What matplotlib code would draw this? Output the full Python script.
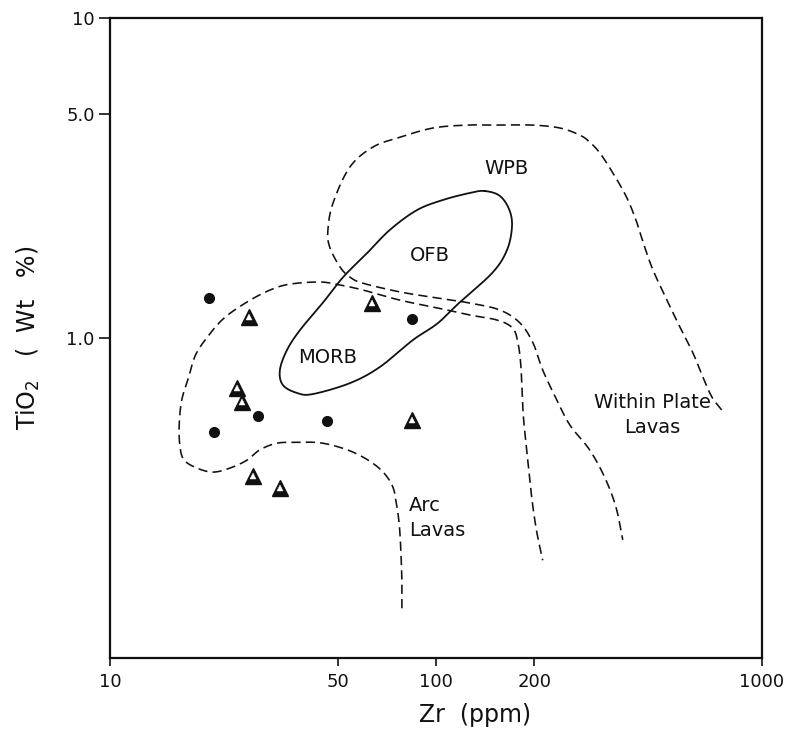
import numpy as np
import matplotlib
matplotlib.use("Agg")
import matplotlib.pyplot as plt
from matplotlib.ticker import FixedLocator, FixedFormatter, NullLocator

# Sample analyses: Zr (ppm) vs TiO2 (wt %)
dot_zr = [20.1, 84.4, 20.8, 28.4, 46.3]
dot_tio2 = [1.33, 1.15, 0.51, 0.57, 0.55]
tri_zr = [26.7, 63.6, 24.5, 25.4, 84.4, 27.5, 33.2]
tri_tio2 = [1.16, 1.29, 0.70, 0.63, 0.555, 0.37, 0.34]

# Ocean-floor basalt / MORB field (closed outline)
ofb_zr = [141, 157, 168, 171, 165, 149, 118, 101, 85, 67.3, 54.5, 41.9,
          37.5, 33.9, 33.2, 34.9, 38.3, 45.0, 51.9, 61.4, 72.3, 87.4, 105, 127]
ofb_tio2 = [2.88, 2.78, 2.51, 2.22, 1.88, 1.60, 1.29, 1.11, 0.986, 0.812,
            0.723, 0.668, 0.673, 0.713, 0.794, 0.917, 1.06, 1.29, 1.55, 1.84,
            2.18, 2.51, 2.70, 2.84]

# Arc lavas field boundary
arc_zr = [78.6, 78.6, 77.5, 75.9, 73.3, 66.3, 55.6, 45.0, 37.4, 32.5, 28.8,
          26.3, 23.3, 20.7, 18.5, 16.9, 16.4, 16.3, 16.6, 17.4, 18.3, 20.0,
          22.4, 26.3, 31.0, 35.7, 44.1, 50.8, 59.6, 77.5, 97.9, 127, 153.8,
          171.8, 178.4, 182.2, 184.7, 189.7, 197.0, 204.0, 212.5]
arc_tio2 = [0.143, 0.175, 0.246, 0.296, 0.347, 0.395, 0.440, 0.469, 0.472,
            0.469, 0.447, 0.415, 0.392, 0.381, 0.392, 0.415, 0.456, 0.534,
            0.640, 0.750, 0.885, 1.014, 1.155, 1.295, 1.413, 1.474, 1.496,
            1.464, 1.413, 1.313, 1.250, 1.180, 1.138, 1.074, 0.965, 0.812,
            0.596, 0.447, 0.312, 0.246, 0.202]

# Within-plate basalt / within-plate lavas field boundary
wpb_zr = [752, 702, 659, 614, 560, 511, 463, 434.5, 410.6, 384, 349, 318.5,
          296, 276, 240, 198, 157, 124.5, 97.9, 77.5, 64.1, 54.4, 48.3, 46.6,
          47.2, 50.8, 54.4, 59.6, 77.5, 100.7, 127, 157, 181, 198.4, 212.5,
          234.8, 257.6, 296, 330, 356.5, 374]
wpb_tio2 = [0.596, 0.654, 0.754, 0.898, 1.082, 1.313, 1.631, 1.953, 2.336,
            2.757, 3.276, 3.780, 4.096, 4.307, 4.531, 4.627, 4.627, 4.627,
            4.531, 4.239, 3.953, 3.42, 2.639, 2.175, 1.923, 1.665, 1.551,
            1.484, 1.393, 1.334, 1.286, 1.223, 1.114, 0.965, 0.794, 0.640,
            0.534, 0.447, 0.365, 0.296, 0.234]

x_ticks = [10, 50, 100, 200, 1000]
x_tick_labels = ["10", "50", "100", "200", "1000"]
y_ticks = [1, 5, 10]
y_tick_labels = ["1.0", "5.0", "10"]


def smooth_log(xs, ys, closed=False, n=14):
    """Catmull-Rom spline through the points, evaluated in log-log space."""
    p = np.column_stack([np.log10(xs), np.log10(ys)])
    if closed:
        pts = np.vstack([p[-1], p, p[0], p[1]])
    else:
        pts = np.vstack([2 * p[0] - p[1], p, 2 * p[-1] - p[-2]])
    t = np.linspace(0, 1, n, endpoint=False)[:, None]
    segs = []
    for i in range(1, len(pts) - 2):
        p0, p1, p2, p3 = pts[i - 1], pts[i], pts[i + 1], pts[i + 2]
        segs.append(0.5 * (2 * p1 + (-p0 + p2) * t
                           + (2 * p0 - 5 * p1 + 4 * p2 - p3) * t ** 2
                           + (-p0 + 3 * p1 - 3 * p2 + p3) * t ** 3))
    segs.append(pts[-2][None, :])
    out = np.vstack(segs)
    return 10 ** out[:, 0], 10 ** out[:, 1]


fig = plt.figure(figsize=(8.03, 7.34), dpi=100)
ax = fig.add_axes([110 / 803, 76 / 734, 652 / 803, 640 / 734])
ax.set_xscale("log")
ax.set_yscale("log")
ax.set_xlim(10, 1000)
ax.set_ylim(0.1, 10)

ink = "#111111"
dash = (0, (5.8, 3.2))

x, y = smooth_log(ofb_zr, ofb_tio2, closed=True)
ax.plot(x, y, color=ink, lw=1.3, solid_capstyle="round")
x, y = smooth_log(arc_zr, arc_tio2)
ax.plot(x, y, color=ink, lw=1.15, linestyle=dash)
x, y = smooth_log(wpb_zr, wpb_tio2)
ax.plot(x, y, color=ink, lw=1.15, linestyle=dash)

ax.plot(dot_zr, dot_tio2, linestyle="none", marker="o", ms=7,
        mfc=ink, mec=ink, zorder=5)
ax.plot(tri_zr, tri_tio2, linestyle="none", marker="^", ms=12,
        mfc=ink, mec=ink, mew=1.0, zorder=5)
ax.plot(tri_zr, tri_tio2, linestyle="none", marker="^", ms=4.5,
        mfc="white", mec="white", mew=0.3, zorder=6)

lab = dict(color=ink, fontsize=14, ha="center", va="center")
ax.text(165, 3.39, "WPB", **lab)
ax.text(95.9, 1.816, "OFB", **lab)
ax.text(46.6, 0.866, "MORB", **lab)
ax.text(460, 0.575, "Within Plate\nLavas", linespacing=1.45, **lab)
ax.text(82.6, 0.274, "Arc\nLavas", color=ink, fontsize=14, ha="left",
        va="center", linespacing=1.35)

ax.xaxis.set_major_locator(FixedLocator(x_ticks))
ax.xaxis.set_major_formatter(FixedFormatter(x_tick_labels))
ax.xaxis.set_minor_locator(NullLocator())
ax.yaxis.set_major_locator(FixedLocator(y_ticks))
ax.yaxis.set_major_formatter(FixedFormatter(y_tick_labels))
ax.yaxis.set_minor_locator(NullLocator())

ax.tick_params(axis="x", direction="out", length=6, width=1.2,
               labelsize=13, pad=5, colors=ink)
ax.tick_params(axis="y", direction="out", length=8, width=1.2,
               labelsize=13, pad=3, colors=ink)
for s in ax.spines.values():
    s.set_linewidth(1.6)
    s.set_color(ink)

ax.set_xlabel("Zr  (ppm)", fontsize=17, color=ink)
ax.xaxis.set_label_coords(0.56, -0.07)
ax.set_ylabel("TiO$_2$   (  Wt   %)", fontsize=17, color=ink)
ax.yaxis.set_label_coords(-0.104, 0.50)

fig.savefig("out.png", dpi=100, facecolor="white")
